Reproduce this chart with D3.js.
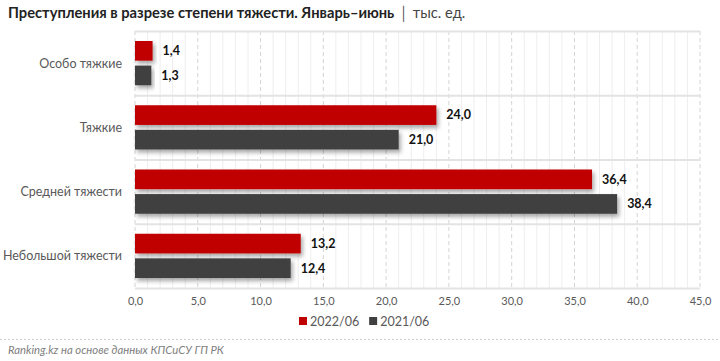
<!DOCTYPE html>
<html><head><meta charset="utf-8">
<script src="https://cdn.jsdelivr.net/npm/d3@7"></script>
<style>body{margin:0;background:#fff;} svg{display:block;font-family:Lato,"Open Sans",sans-serif;}</style>
</head><body>
<svg id="c" width="720" height="361"></svg>
<script>
const categories = ["Особо тяжкие","Тяжкие","Средней тяжести","Небольшой тяжести"];
const series = ["2022/06","2021/06"];
const values2022 = [1.4, 24.0, 36.4, 13.2];
const values2021 = [1.3, 21.0, 38.4, 12.4];
const xTicks = [0,5,10,15,20,25,30,35,40,45];
const colors = ["#C00000","#404040"];

const svg = d3.select("#c");
const W=720,H=361;
const m={l:135,r:20,t:31,b:73};
const x=d3.scaleLinear().domain([0,45]).range([m.l,700]);
const y=d3.scaleBand().domain(categories).range([m.t,288]);
const yin=d3.scaleBand().domain(series).range([10,y.bandwidth()-10]).paddingInner(0.2);
const fmt=v=>d3.format(".1f")(v).replace(".",",");

const defs=svg.append("defs");
const f=defs.append("filter").attr("id","sh").attr("x","-10%").attr("y","-30%").attr("width","130%").attr("height","180%");
f.append("feDropShadow").attr("dx",2).attr("dy",3).attr("stdDeviation",2.2).attr("flood-color","#000").attr("flood-opacity",0.35);

// title
const t=svg.append("text").attr("x",8).attr("y",18).attr("font-size",14.7).attr("fill","#222");
t.append("tspan").attr("font-weight","bold").text("Преступления в разрезе степени тяжести. Январь–июнь");
t.append("tspan").attr("fill","#444").text("  │  тыс. ед.");

// minor grid
const minor=d3.range(0,46,1).filter(v=>v%5!==0);
svg.append("g").selectAll("line").data(minor).join("line")
 .attr("x1",d=>x(d)).attr("x2",d=>x(d)).attr("y1",m.t).attr("y2",288)
 .attr("stroke","#eeeeee").attr("stroke-width",1);
svg.append("g").selectAll("line").data(xTicks).join("line")
 .attr("x1",d=>x(d)).attr("x2",d=>x(d)).attr("y1",m.t).attr("y2",288)
 .attr("stroke","#d4d4d4").attr("stroke-width",1).attr("stroke-dasharray","4,3");
// band separators
const seps=categories.map(c=>y(c)).concat([288]);
svg.append("g").selectAll("line").data(seps).join("line")
 .attr("x1",x(0)).attr("x2",x(45)).attr("y1",d=>d+0.5).attr("y2",d=>d+0.5)
 .attr("stroke","#e3e3e3").attr("stroke-width",2);

// bars
const data=[];
categories.forEach((c,i)=>{data.push({c,s:series[0],v:values2022[i]});data.push({c,s:series[1],v:values2021[i]});});
svg.append("g").selectAll("rect").data(data).join("rect")
 .attr("x",x(0)).attr("y",d=>y(d.c)+yin(d.s)).attr("width",d=>x(d.v)-x(0)).attr("height",yin.bandwidth())
 .attr("fill",d=>colors[series.indexOf(d.s)]).attr("filter","url(#sh)");
svg.append("g").selectAll("text").data(data).join("text")
 .attr("x",d=>x(d.v)+10).attr("y",d=>y(d.c)+yin(d.s)+yin.bandwidth()/2).attr("dy","0.35em")
 .attr("font-size",12.5).attr("font-weight","bold").attr("fill","#111").text(d=>fmt(d.v));

// y labels
svg.append("g").selectAll("text").data(categories).join("text")
 .attr("x",122).attr("y",d=>y(d)+y.bandwidth()/2).attr("dy","0.35em").attr("text-anchor","end")
 .attr("font-size",12.5).attr("fill","#595959").text(d=>d);

// x axis
const ax=svg.append("g").attr("transform","translate(0,288)").call(d3.axisBottom(x).tickValues(xTicks).tickSize(0).tickPadding(9).tickFormat(fmt));
ax.select(".domain").remove();
ax.selectAll("text").attr("font-size",11).attr("fill","#595959").attr("font-family","Lato,'Open Sans',sans-serif");

// legend
const lg=svg.append("g").attr("transform","translate(299,322)");
let lx=0;
series.forEach((s,i)=>{
  const g=lg.append("g").attr("transform",`translate(${lx},0)`);
  g.append("rect").attr("x",0).attr("y",-5).attr("width",8).attr("height",8).attr("fill",colors[i]);
  const tx=g.append("text").attr("x",11).attr("y",0).attr("dy","0.35em").attr("font-size",12.5).attr("fill","#595959").text(s);
  lx+=11+tx.node().getComputedTextLength()+10;
});

// footer
svg.append("line").attr("x1",0).attr("x2",W).attr("y1",339.5).attr("y2",339.5).attr("stroke","#cccccc").attr("stroke-dasharray","2,2");
svg.append("text").attr("x",8).attr("y",354).attr("font-size",11.3).attr("font-style","italic").attr("fill","#808080").text("Ranking.kz на основе данных КПСиСУ ГП РК");
</script>
</body></html>
